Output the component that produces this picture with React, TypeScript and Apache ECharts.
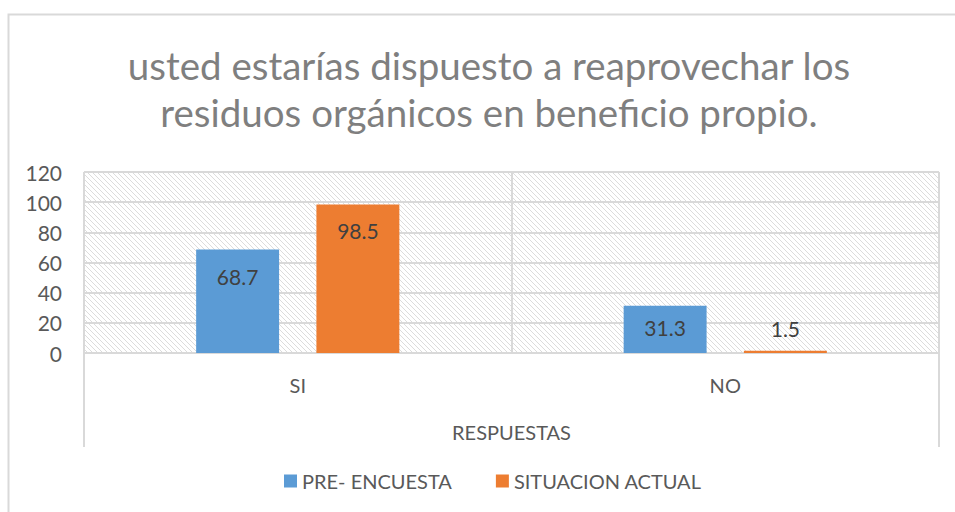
import React, { useEffect, useRef } from "react";
import * as echarts from "echarts";

const titleText = "usted estarías dispuesto a reaprovechar los\nresiduos orgánicos en beneficio propio.";
const categories = ["SI", "NO"];
const seriesNames = ["PRE- ENCUESTA", "SITUACION ACTUAL"];
const preEncuesta = [68.7, 31.3];
const situacionActual = [98.5, 1.5];
const yTicks = [0, 20, 40, 60, 80, 100, 120];
const xAxisName = "RESPUESTAS";

function makeHatch(): string {
  const n = 5;
  const c = document.createElement("canvas");
  c.width = n;
  c.height = n;
  const ctx = c.getContext("2d")!;
  ctx.fillStyle = "#ffffff";
  ctx.fillRect(0, 0, n, n);
  ctx.fillStyle = "#dcdcdc";
  for (let i = 0; i < n; i++) ctx.fillRect(i, i, 1, 1);
  return c.toDataURL();
}

export default function App() {
  const ref = useRef<HTMLDivElement>(null);
  useEffect(() => {
    document.body.style.margin = "0";
    const chart = echarts.init(ref.current!, null, { renderer: "svg" });
    const font = "Lato";
    const hatch = makeHatch();
    const labelDist = [[17, 11], [16, 12]];
    chart.setOption({
      animation: false,
      backgroundColor: "#ffffff",
      textStyle: { fontFamily: font },
      legend: {
        bottom: 16,
        left: 279,
        itemWidth: 13,
        itemHeight: 13,
        itemGap: 44,
        icon: "rect",
        textStyle: { fontFamily: font, fontSize: 20, color: "#595959" },
        data: seriesNames,
      },
      grid: {
        left: 84,
        right: 16,
        top: 172,
        bottom: 159,
        show: true,
        borderWidth: 0,
        backgroundColor: { image: hatch, repeat: "repeat" },
      },
      xAxis: {
        type: "category",
        data: categories,
        name: xAxisName,
        nameLocation: "middle",
        nameGap: 69,
        nameTextStyle: { fontFamily: font, fontSize: 20, color: "#595959" },
        axisLine: { show: true, lineStyle: { color: "#d9d9d9", width: 2 } },
        axisTick: { show: false },
        axisLabel: { fontFamily: font, fontSize: 20, color: "#595959", margin: 22 },
        splitLine: { show: true, lineStyle: { color: "#d9d9d9", width: 2 } },
      },
      yAxis: {
        type: "value",
        min: yTicks[0],
        max: yTicks[yTicks.length - 1],
        interval: 20,
        axisLine: { show: false },
        axisTick: { show: false },
        axisLabel: { fontFamily: font, fontSize: 21, color: "#595959", margin: 22 },
        splitLine: { lineStyle: { color: "#d9d9d9", width: 2 } },
      },
      graphic: [
        {
          type: "text",
          x: 489,
          y: 41,
          silent: true,
          style: {
            text: titleText,
            textAlign: "center",
            textVerticalAlign: "top",
            fontFamily: font,
            fontSize: 38.5,
            lineHeight: 47,
            fill: "#7f7f7f",
          },
        },
        {
          type: "rect",
          shape: { x: 8.5, y: 14.5, width: 1000, height: 600 },
          style: { fill: "none", stroke: "#d9d9d9", lineWidth: 2 },
          silent: true,
        },
        {
          type: "line",
          shape: { x1: 84, y1: 353, x2: 84, y2: 447 },
          style: { stroke: "#d9d9d9", lineWidth: 2 },
          silent: true,
        },
        {
          type: "line",
          shape: { x1: 939, y1: 353, x2: 939, y2: 447 },
          style: { stroke: "#d9d9d9", lineWidth: 2 },
          silent: true,
        },
      ],
      series: [
        {
          name: seriesNames[0],
          type: "bar",
          barWidth: "19.4%",
          barGap: "45%",
          itemStyle: { color: "#5b9bd5" },
          data: preEncuesta.map((v, i) => ({
            value: v,
            label: { show: true, position: "insideTop", distance: labelDist[0][i] },
          })),
          label: { fontFamily: font, fontSize: 21, color: "#404040" },
        },
        {
          name: seriesNames[1],
          type: "bar",
          barWidth: "19.4%",
          barGap: "45%",
          itemStyle: { color: "#ed7d31" },
          data: situacionActual.map((v, i) => ({
            value: v,
            label: {
              show: true,
              position: v < 10 ? "top" : "insideTop",
              distance: labelDist[1][i],
            },
          })),
          label: { fontFamily: font, fontSize: 21, color: "#404040" },
        },
      ],
    });
    return () => chart.dispose();
  }, []);
  return <div ref={ref} style={{ width: 955, height: 512 }} />;
}
